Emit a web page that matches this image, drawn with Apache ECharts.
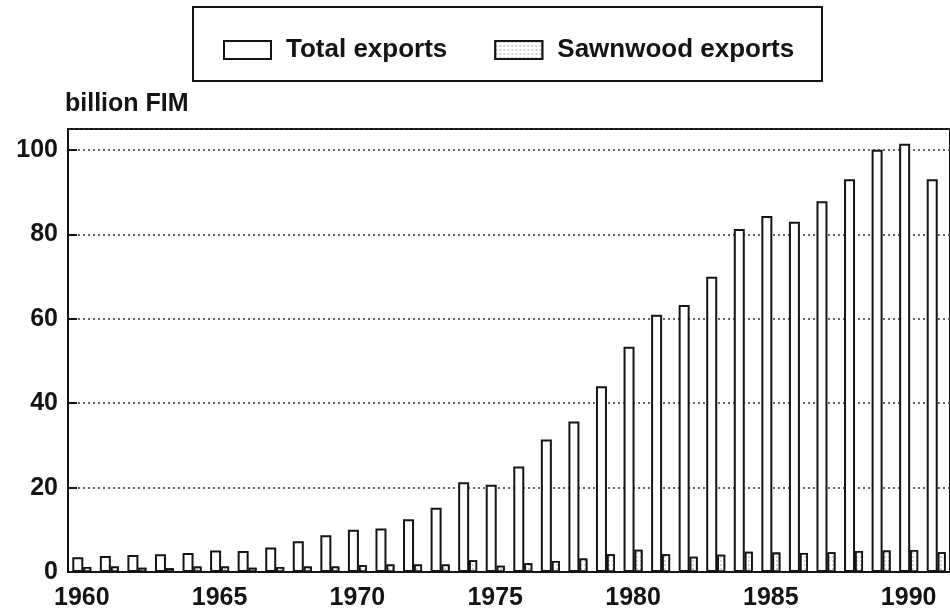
<!DOCTYPE html>
<html>
<head>
<meta charset="utf-8">
<script src="https://cdn.jsdelivr.net/npm/echarts@6/dist/echarts.min.js"></script>
<style>
  html, body { margin: 0; padding: 0; background: #fff; }
  #chart { width: 950px; height: 611px; }
</style>
</head>
<body>
<div id="chart"></div>
<script>
// Finnish exports, billion FIM
var years = [];
for (var y = 1960; y <= 1991; y++) years.push(String(y));

var totalExports = [3.5, 3.8, 4.0, 4.2, 4.5, 5.1, 5.0, 5.8, 7.3, 8.7,
                    10.0, 10.3, 12.5, 15.2, 21.3, 20.7, 25.0, 31.4, 35.7, 44.0,
                    53.4, 61.0, 63.3, 70.0, 81.3, 84.4, 83.0, 87.9, 93.1, 100.1,
                    101.5, 93.1];

var sawnwoodExports = [1.2, 1.3, 1.0, 0.9, 1.3, 1.3, 1.0, 1.2, 1.3, 1.3,
                       1.6, 1.8, 1.8, 1.8, 2.8, 1.5, 2.1, 2.6, 3.2, 4.2,
                       5.3, 4.2, 3.6, 4.1, 4.8, 4.6, 4.5, 4.7, 5.0, 5.1,
                       5.2, 4.7];

var yTicks = [0, 20, 40, 60, 80, 100];

var FONT = '"Liberation Sans", Arial, sans-serif';
var INK = '#141414';

var chart = echarts.init(document.getElementById('chart'), null, { renderer: 'canvas' });

chart.setOption({
  backgroundColor: '#fff',
  animation: false,
  grid: {
    left: 68, top: 129, width: 885, height: 444,
    show: true, borderColor: INK, borderWidth: 2, backgroundColor: 'transparent'
  },
  legend: {
    left: 218, top: 32,
    itemWidth: 47, itemHeight: 18, itemGap: 47,
    icon: 'rect',
    textStyle: { fontFamily: FONT, fontWeight: 'bold', fontSize: 26, lineHeight: 26, color: INK, padding: [0, 0, 0, 10] },
    data: ['Total exports', 'Sawnwood exports']
  },
  graphic: [
    {
      type: 'rect',
      shape: { x: 193, y: 7, width: 629, height: 74 },
      style: { fill: 'none', stroke: INK, lineWidth: 2 }
    },
    {
      type: 'text',
      left: 65, top: 92,
      style: { text: 'billion FIM', font: 'bold 25px ' + FONT, fill: INK }
    }
  ],
  xAxis: {
    type: 'category',
    data: years,
    axisLine: { lineStyle: { color: INK, width: 2 } },
    axisTick: { show: false },
    axisLabel: {
      interval: 4, margin: 14,
      fontFamily: FONT, fontWeight: 'bold', fontSize: 25, color: INK
    }
  },
  yAxis: {
    type: 'value',
    min: 0, max: 105, interval: 20,
    axisLine: { show: true, lineStyle: { color: INK, width: 2 } },
    axisTick: { show: true, inside: true, length: 9, lineStyle: { color: INK, width: 2 } },
    axisLabel: {
      showMaxLabel: false, margin: 10,
      fontFamily: FONT, fontWeight: 'bold', fontSize: 25, color: INK,
      formatter: function (v) { return yTicks.indexOf(v) >= 0 ? String(v) : ''; }
    },
    splitLine: { show: true, lineStyle: { color: '#333', width: 1.6, type: [2, 3] } }
  },
  series: [
    {
      name: 'Total exports',
      type: 'bar',
      data: totalExports,
      barWidth: 11,
      barGap: '0%',
      itemStyle: { color: '#fff', borderColor: INK, borderWidth: 2 }
    },
    {
      name: 'Sawnwood exports',
      type: 'bar',
      data: sawnwoodExports,
      barWidth: 8,
      itemStyle: {
        color: '#fff', borderColor: INK, borderWidth: 1.8,
        decal: {
          symbol: 'rect', symbolSize: 0.6, color: 'rgba(0,0,0,0.6)',
          backgroundColor: '#fff',
          dashArrayX: [2, 2], dashArrayY: [2, 2], rotation: 0
        }
      }
    }
  ]
});
</script>
</body>
</html>
